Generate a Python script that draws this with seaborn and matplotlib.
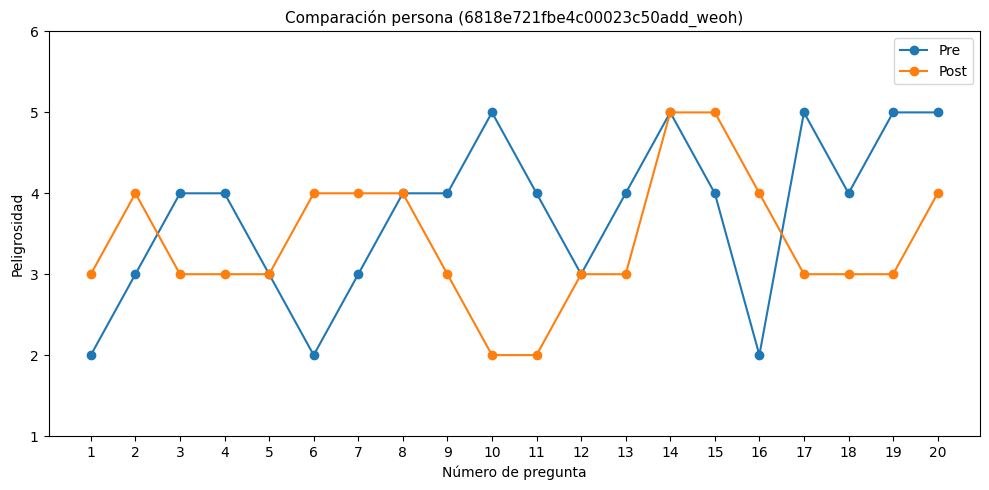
import numpy as np
import pandas as pd
import matplotlib
matplotlib.use('Agg')
import matplotlib.pyplot as plt
import seaborn as sns

preguntas = list(range(1, 21))
pre = [2, 3, 4, 4, 3, 2, 3, 4, 4, 5, 4, 3, 4, 5, 4, 2, 5, 4, 5, 5]
post = [3, 4, 3, 3, 3, 4, 4, 4, 3, 2, 2, 3, 3, 5, 5, 4, 3, 3, 3, 4]

df = pd.DataFrame({'pregunta': preguntas, 'Pre': pre, 'Post': post})

fig, ax = plt.subplots(figsize=(9.89, 4.9), dpi=100)

colores = {'Pre': '#1f77b4', 'Post': '#ff7f0e'}
for serie in ['Pre', 'Post']:
    sns.lineplot(data=df, x='pregunta', y=serie, ax=ax, marker='o', label=serie,
                 color=colores[serie], markersize=6, markeredgecolor=colores[serie],
                 markeredgewidth=1, linewidth=1.5)

ax.set_xticks(preguntas)
ax.set_ylim(1, 6)
ax.set_xlabel('Número de pregunta')
ax.set_ylabel('Peligrosidad')
ax.set_title('Comparación persona (6818e721fbe4c00023c50add_weoh)', fontsize=11)
ax.legend(loc='upper right')

fig.subplots_adjust(left=48.5 / 989, right=980 / 989, top=1 - 31.5 / 490, bottom=1 - 436 / 490)
plt.savefig('out.png', dpi=100)
